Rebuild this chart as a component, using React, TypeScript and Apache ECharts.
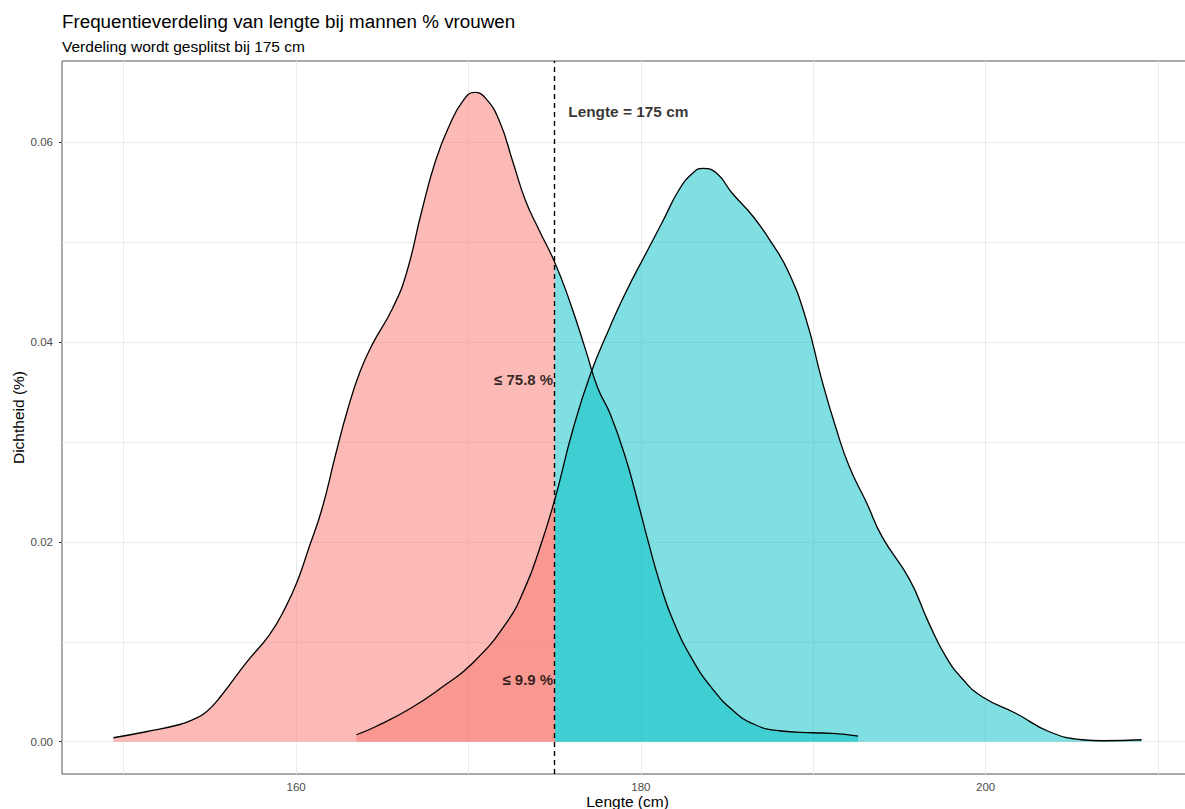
import React, { useEffect, useRef } from "react";
import * as echarts from "echarts";

// Density of height (cm) for women (vrouwen) and men (mannen)
const femaleX = [149.4, 151.3, 153.2, 154.0, 154.8, 155.7, 157.1, 158.45, 159.4, 160.1, 160.7, 161.5, 162.3, 163.0, 163.7, 164.4, 165.6, 166.4, 167.3, 168.1, 168.9, 169.7, 170.35, 171.0, 171.8, 172.6, 173.3, 174.1, 175.0, 175.85, 176.8, 177.5, 178.2, 179.1, 179.9, 180.4, 181.1, 181.85, 183.0, 184.2, 185.3, 186.5, 188.0, 190.0, 191.1, 192.6];
const femaleY = [0.0004, 0.0010, 0.0017, 0.0022, 0.0030, 0.0047, 0.0079, 0.0107, 0.0135, 0.0162, 0.0192, 0.0233, 0.0288, 0.0333, 0.0370, 0.0397, 0.0434, 0.0469, 0.0532, 0.0582, 0.0617, 0.0642, 0.0650, 0.0644, 0.0621, 0.0579, 0.0542, 0.0512, 0.0480, 0.0442, 0.0392, 0.0354, 0.0329, 0.0285, 0.0235, 0.0202, 0.0159, 0.0122, 0.0082, 0.0052, 0.0032, 0.0018, 0.0011, 0.0009, 0.00084, 0.00057];

const maleX = [163.5, 164.6, 166.6, 168.5, 170.2, 172.2, 173.3, 174.1, 175.0, 176.05, 177.1, 178.2, 179.1, 180.3, 181.3, 182.2, 183.0, 183.6, 184.4, 185.3, 186.5, 187.6, 188.6, 189.6, 190.5, 191.3, 192.1, 193.1, 194.0, 195.6, 196.7, 197.7, 198.7, 199.8, 201.8, 203.7, 205.6, 206.8, 209.05];
const maleY = [0.0007, 0.0015, 0.0033, 0.0055, 0.0078, 0.0119, 0.0155, 0.0192, 0.0242, 0.0312, 0.0369, 0.0415, 0.0449, 0.0489, 0.0522, 0.0552, 0.0569, 0.0574, 0.0569, 0.0549, 0.0526, 0.0499, 0.0469, 0.0422, 0.0362, 0.0315, 0.0275, 0.0239, 0.0205, 0.0162, 0.0119, 0.0085, 0.0062, 0.0045, 0.0028, 0.0010, 0.0002, 0.0001, 0.0002];

const splitAt = 175;
const xRange = [146.42, 212.03];
const yRange = [-0.00323, 0.06814];
const xTickLabels = [160, 180, 200];
const yTickLabels = [0, 0.02, 0.04, 0.06];
const xGridValues = [150, 160, 170, 180, 190, 200, 210];
const yGridValues = [0, 0.01, 0.02, 0.03, 0.04, 0.05, 0.06];

const annotationX = [175.7, 175, 175];
const annotationY = [0.0631, 0.03625, 0.0062];
const annotationText = ["Lengte = 175 cm", "≤ 75.8 %", "≤ 9.9 %"];
const annotationSide = ["right", "left", "left"];
const annotationSize = [15.4, 15, 15];

const titleText = "Frequentieverdeling van lengte bij mannen % vrouwen";
const subtitleText = "Verdeling wordt gesplitst bij 175 cm";

const FONT = "'Liberation Sans', Arial, Helvetica, sans-serif";

export default function App() {
  const ref = useRef<HTMLDivElement>(null);

  useEffect(() => {
    if (!ref.current) return;
    const chart = echarts.init(ref.current, undefined, { renderer: "svg" });
    const pairs = (xs: number[], ys: number[]) => xs.map((x, i) => [x, ys[i]]);

    chart.setOption({
      animation: false,
      backgroundColor: "#ffffff",
      textStyle: { fontFamily: FONT },
      title: {
        text: titleText,
        subtext: subtitleText,
        left: 57,
        top: 7,
        itemGap: 7,
        textStyle: { fontFamily: FONT, fontSize: 18.8, fontWeight: "normal", color: "#000" },
        subtextStyle: { fontFamily: FONT, fontSize: 15.5, color: "#000" },
      },
      grid: {
        left: 62,
        right: 7,
        top: 61,
        bottom: 35,
        outerBoundsMode: "none",
        containLabel: false,
        show: true,
        borderColor: "#555",
        borderWidth: 1,
        backgroundColor: "transparent",
      },
      visualMap: [
        {
          type: "piecewise",
          show: false,
          dimension: 0,
          seriesIndex: [1, 2],
          pieces: [
            { min: 100, max: splitAt, color: "#F8766D" },
            { gt: splitAt, max: 250, color: "#00BFC4" },
          ],
        },
      ],
      xAxis: {
        type: "value",
        min: xRange[0],
        max: xRange[1],
        name: "Lengte (cm)",
        nameLocation: "middle",
        nameGap: 19.5,
        nameMoveOverlap: false,
        nameTextStyle: { fontFamily: FONT, fontSize: 15.5, color: "#000" },
        axisLine: { show: false },
        splitLine: { show: false },
        axisTick: { show: true, length: 3, customValues: xTickLabels, lineStyle: { color: "#333" } },
        axisLabel: {
          customValues: xTickLabels,
          margin: 6.5,
          fontSize: 11.5,
          color: "#4D4D4D",
          fontFamily: FONT,
        },
      },
      yAxis: {
        type: "value",
        min: yRange[0],
        max: yRange[1],
        name: "Dichtheid (%)",
        nameLocation: "middle",
        nameRotate: 90,
        nameGap: 36,
        nameMoveOverlap: false,
        nameTextStyle: { fontFamily: FONT, fontSize: 15.5, color: "#000" },
        axisLine: { show: false },
        splitLine: { show: false },
        axisTick: { show: true, length: 3, customValues: yTickLabels, lineStyle: { color: "#333" } },
        axisLabel: {
          customValues: yTickLabels,
          margin: 9,
          fontSize: 11.5,
          color: "#4D4D4D",
          fontFamily: FONT,
          formatter: (v: number) => v.toFixed(2),
        },
      },
      series: [
        {
          type: "line",
          name: "grid",
          data: [],
          silent: true,
          markLine: {
            silent: true,
            z: 1,
            symbol: ["none", "none"],
            label: { show: false },
            lineStyle: { color: "#EBEBEB", width: 1, type: "solid" },
            emphasis: { disabled: true },
            data: [
              ...xGridValues.map((v) => ({ xAxis: v })),
              ...yGridValues.map((v) => ({ yAxis: v })),
            ],
          },
        },
        {
          type: "line",
          name: "mannen",
          data: pairs(maleX, maleY),
          smooth: 0.5,
          showSymbol: false,
          symbol: "none",
          silent: true,
          z: 2,
          lineStyle: { color: "#000", width: 1.3 },
          areaStyle: { opacity: 0.5 },
        },
        {
          type: "line",
          name: "vrouwen",
          data: pairs(femaleX, femaleY),
          smooth: 0.5,
          showSymbol: false,
          symbol: "none",
          silent: true,
          z: 2,
          lineStyle: { color: "#000", width: 1.3 },
          areaStyle: { opacity: 0.5 },
        },
        {
          type: "line",
          name: "split",
          data: [],
          silent: true,
          markLine: {
            silent: true,
            z: 6,
            symbol: ["none", "none"],
            label: { show: false },
            lineStyle: { color: "#000", width: 1.4, type: [5, 4] },
            emphasis: { disabled: true },
            data: [{ xAxis: splitAt }],
          },
        },
        {
          type: "scatter",
          name: "annotations",
          silent: true,
          z: 7,
          symbolSize: 1,
          itemStyle: { color: "rgba(0,0,0,0)" },
          data: annotationX.map((x, i) => ({
            value: [x, annotationY[i]],
            label: {
              show: true,
              position: annotationSide[i],
              distance: 1,
              formatter: annotationText[i],
              fontFamily: FONT,
              fontSize: annotationSize[i],
              fontWeight: "bold",
              color: "#000",
            },
          })),
        },
      ],
    });

    return () => chart.dispose();
  }, []);

  return (
    <div
      ref={ref}
      style={{ position: "fixed", left: 0, top: 0, width: 1200, height: 809, background: "#fff" }}
    />
  );
}
